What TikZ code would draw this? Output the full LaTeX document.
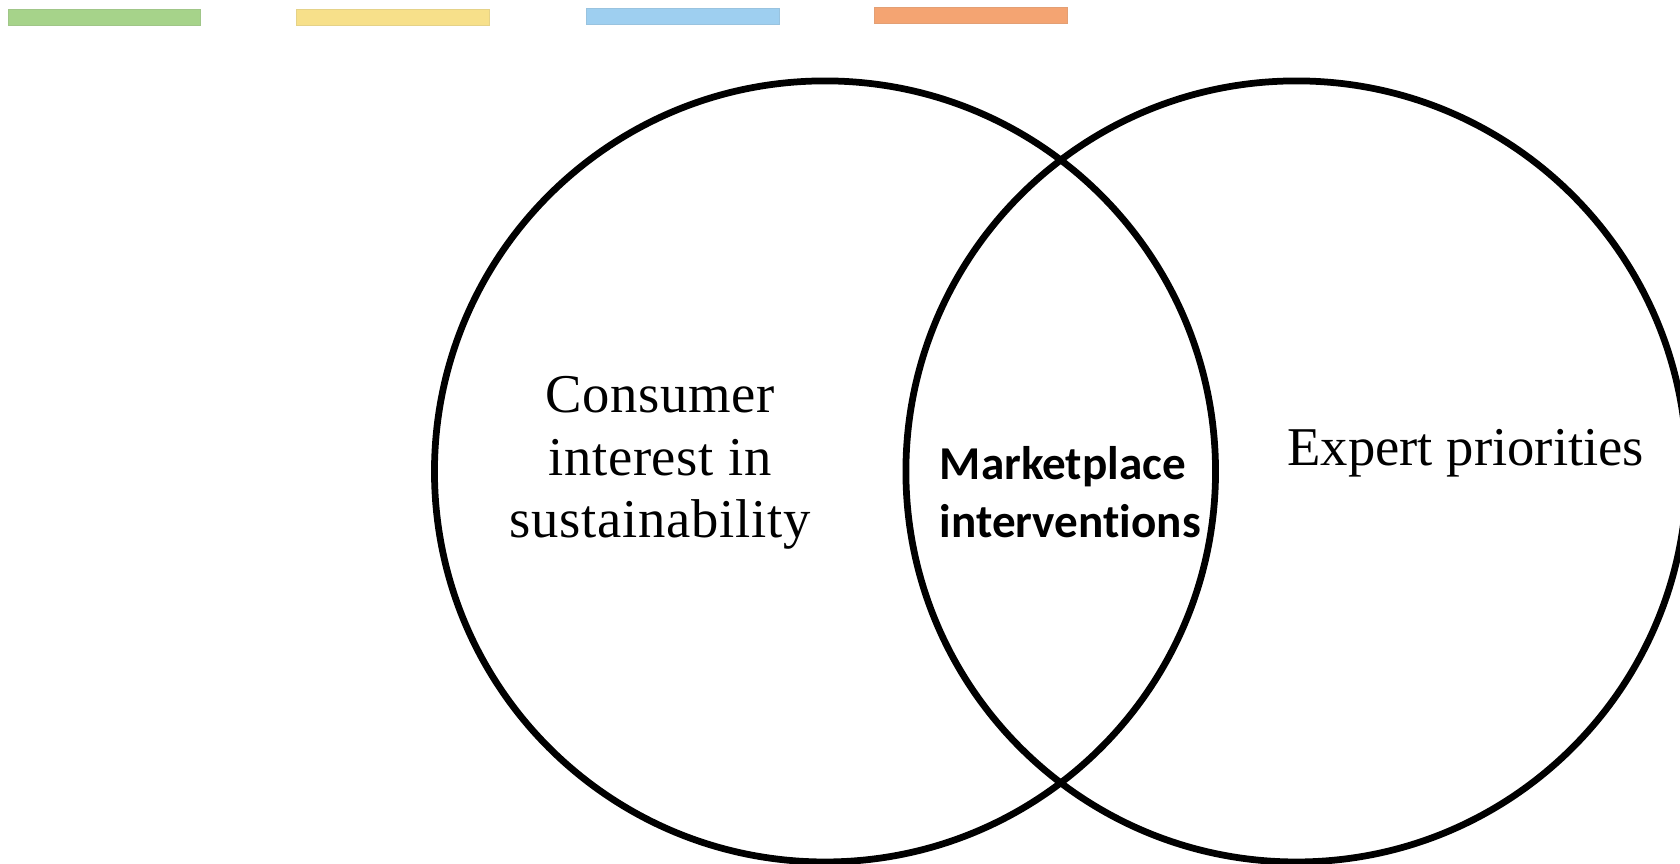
\documentclass[tikz,border=0pt]{standalone}
\usepackage{fontspec}
\setmainfont{Liberation Serif}
\newfontfamily\calib[Ligatures=NoCommon]{Carlito}
\newfontfamily\spacedserif[LetterSpace=1.3]{Liberation Serif}
\definecolor{barGreen}{HTML}{A6D38A}
\definecolor{barYellow}{HTML}{F7E08A}
\definecolor{barBlue}{HTML}{9ECFF0}
\definecolor{barOrange}{HTML}{F4A472}
\begin{document}
\begin{tikzpicture}[x=1pt,y=-1pt,
  ring/.style={circle,draw=black,line width=6.3pt,minimum size=729pt,inner sep=0pt},
  bar/.style={line width=0.8pt},
  serif/.style={font=\fontsize{51}{58}\selectfont,align=center,inner sep=0pt},
  boldlabel/.style={font=\calib\bfseries\fontsize{44}{54}\selectfont,align=left,inner sep=0pt}]
\useasboundingbox (0,0) rectangle (1568,805.5);
\fill[white] (0,0) rectangle (1568,805.5);
% colour bars
\draw[bar,draw=barGreen!85!gray,fill=barGreen] (8,9) rectangle (187,24);
\draw[bar,draw=barYellow!85!gray,fill=barYellow] (277,9) rectangle (457,24);
\draw[bar,draw=barBlue!85!gray,fill=barBlue] (547,8) rectangle (727,23);
\draw[bar,draw=barOrange!85!gray,fill=barOrange] (816,7) rectangle (996,22);
% circles
\node[ring] (left) at (770,440) {};
\node[ring] (right) at (1210,440) {};
% labels
\node[serif,font=\spacedserif\fontsize{51}{58}\selectfont] (consumer) at (616,432) {Consumer\\interest in\\sustainability};
\node[serif] (expert) at (1368,423) {Expert priorities};
\node[boldlabel,anchor=west] (market) at (877,459) {Marketplace\\interventions};
\end{tikzpicture}
\end{document}
